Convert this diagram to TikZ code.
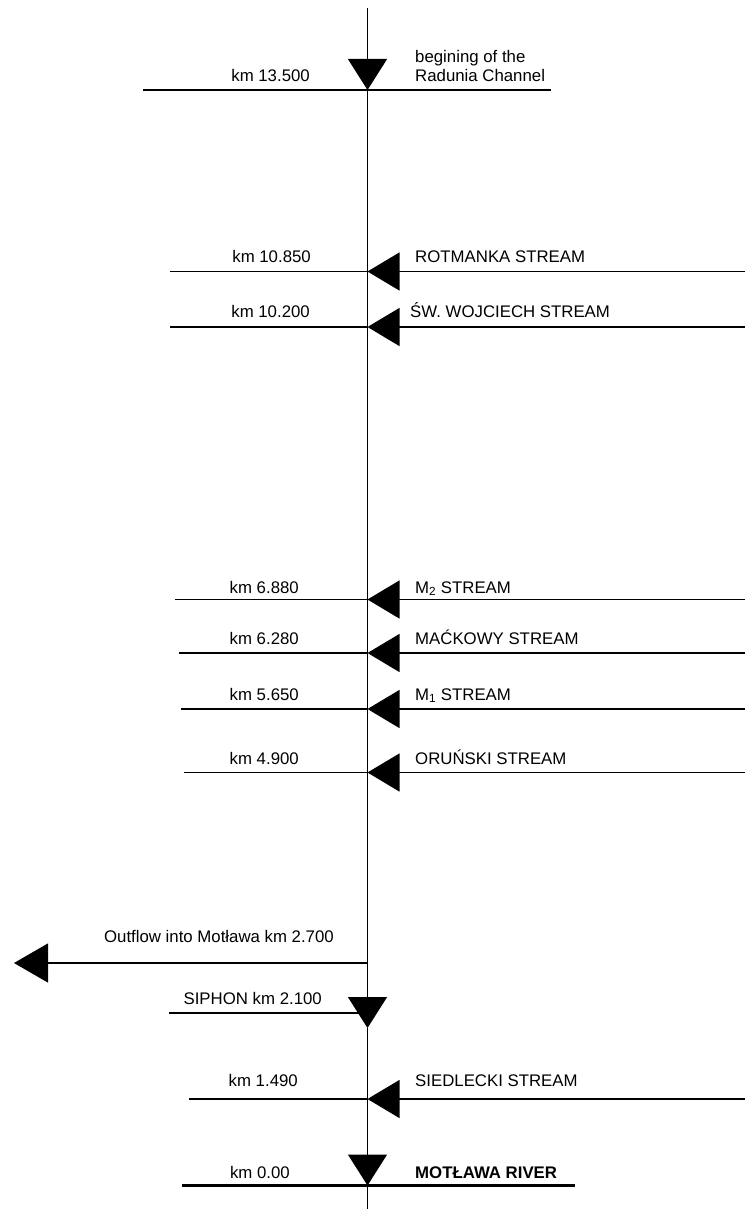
\documentclass[tikz,border=0pt]{standalone}
\usepackage{fontspec}
\setmainfont{Liberation Sans}
\usetikzlibrary{arrows.meta}

\begin{document}
\begin{tikzpicture}[x=1pt, y=-1pt,
  every node/.style={font=\fontsize{16.8}{19.5}\selectfont, inner sep=0pt},
  chan/.style={line width=1.2pt},
  inflow/.style={chan, -{Triangle[length=32pt, width=38pt]}},
  down/.style={chan, -{Triangle[length=31pt, width=39pt]}},
  outflow/.style={chan, -{Triangle[length=34pt, width=39pt]}},
  km/.style={anchor=base east},
  stream/.style={anchor=base west}
]
  \useasboundingbox (0,0) rectangle (745,1209);

  % points on the channel
  \coordinate (src)   at (367.5,8);
  \coordinate (k135)  at (367.5,90);
  \coordinate (rot)   at (367.5,271.5);
  \coordinate (sw)    at (367.5,327);
  \coordinate (m2)    at (367.5,599.5);
  \coordinate (mac)   at (367.5,653);
  \coordinate (m1)    at (367.5,709);
  \coordinate (oru)   at (367.5,772.5);
  \coordinate (out)   at (367.5,963);
  \coordinate (siph)  at (367.5,1013);
  \coordinate (siphT) at (367.5,1028);
  \coordinate (sied)  at (367.5,1099);
  \coordinate (mouth) at (367.5,1185.5);
  \coordinate (sink)  at (367.5,1209);

  % cross lines
  \coordinate (k135w) at (143,90);     \coordinate (k135e) at (551,90);
  \coordinate (rotw)  at (170,271.5);  \coordinate (rote)  at (745,271.5);
  \coordinate (sww)   at (170,327);    \coordinate (swe)   at (745,327);
  \coordinate (m2w)   at (175,599.5);  \coordinate (m2e)   at (745,599.5);
  \coordinate (macw)  at (179,653);    \coordinate (mace)  at (745,653);
  \coordinate (m1w)   at (181,709);    \coordinate (m1e)   at (745,709);
  \coordinate (oruw)  at (184,772.5);  \coordinate (orue)  at (745,772.5);
  \coordinate (outw)  at (14,963);
  \coordinate (siphw) at (169,1013);
  \coordinate (siedw) at (189,1099);   \coordinate (siede) at (745,1099);
  \coordinate (mouthw) at (182,1185.5); \coordinate (mouthe) at (575,1185.5);

  \draw[chan] (k135w) -- (k135e);
  \draw[chan] (rotw) -- (rot);   \draw[inflow] (rote) -- (rot);
  \draw[chan] (sww) -- (sw);     \draw[inflow] (swe) -- (sw);
  \draw[chan] (m2w) -- (m2);     \draw[inflow] (m2e) -- (m2);
  \draw[chan] (macw) -- (mac);   \draw[inflow] (mace) -- (mac);
  \draw[chan] (m1w) -- (m1);     \draw[inflow] (m1e) -- (m1);
  \draw[chan] (oruw) -- (oru);   \draw[inflow] (orue) -- (oru);
  \draw[outflow] (out) -- (outw);
  \draw[chan] (siphw) -- (siph);
  \draw[chan] (siedw) -- (sied); \draw[inflow] (siede) -- (sied);
  \draw[line width=3pt] (mouthw) -- (mouthe);

  % main channel
  \draw[down] (src) -- (k135);
  \draw[chan] (k135) -- (out);
  \draw[down] (out) -- (siphT);
  \draw[chan] (siphT) -- (sied);
  \draw[down] (sied) -- (mouth);
  \draw[chan] (mouth) -- (sink);

  % labels
  \node[km] (lbl_k135) at (310,81.5) {km 13.500};
  \node[anchor=north west, align=left] (lbl_begin) at (415,50) {begining of the\\Radunia Channel};
  \node[km] (lbl_rot) at (311,262) {km 10.850};
  \node[stream] (name_rot) at (415,262) {ROTMANKA STREAM};
  \node[km] (lbl_sw) at (310,317) {km 10.200};
  \node[stream] (name_sw) at (410,317) {ŚW. WOJCIECH STREAM};
  \node[km] (lbl_m2) at (299,593) {km 6.880};
  \node[stream] (name_m2) at (415,593) {M\textsubscript{2} STREAM};
  \node[km] (lbl_mac) at (299,644) {km 6.280};
  \node[stream] (name_mac) at (415,644) {MAĆKOWY STREAM};
  \node[km] (lbl_m1) at (299,700) {km 5.650};
  \node[stream] (name_m1) at (415,700) {M\textsubscript{1} STREAM};
  \node[km] (lbl_oru) at (299,764) {km 4.900};
  \node[stream] (name_oru) at (415,764) {ORUŃSKI STREAM};
  \node[km] (lbl_out) at (334,942) {Outflow into Motława km 2.700};
  \node[km] (lbl_siph) at (322,1004) {SIPHON km 2.100};
  \node[km] (lbl_sied) at (298,1086) {km 1.490};
  \node[stream] (name_sied) at (415,1086) {SIEDLECKI STREAM};
  \node[km] (lbl_mouth) at (290,1178.5) {km 0.00};
  \node[stream, font=\fontsize{16.8}{19.5}\selectfont\bfseries] (name_mouth) at (415,1178.5) {MOTŁAWA RIVER};
\end{tikzpicture}
\end{document}
